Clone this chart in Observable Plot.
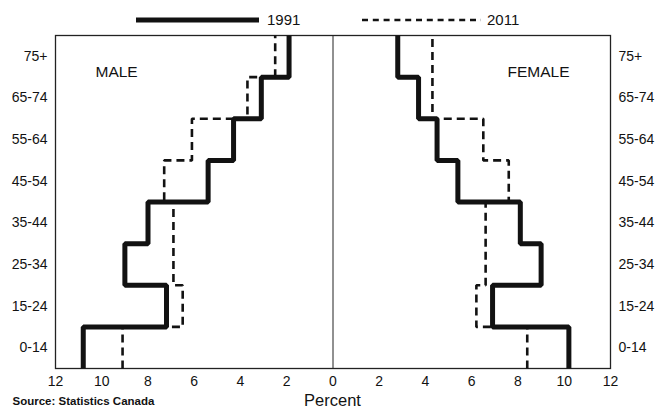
<!DOCTYPE html>
<html>
<head>
<meta charset="utf-8">
<script src="https://cdn.jsdelivr.net/npm/d3@7"></script>
<script src="https://cdn.jsdelivr.net/npm/@observablehq/plot@0.6"></script>
<style>
  html, body { margin: 0; padding: 0; background: #fff; }
  body { width: 663px; height: 412px; overflow: hidden; font-family: "Liberation Sans", Arial, sans-serif; }
  #legend { width: 663px; height: 30px; }
  #legend svg, #chart svg { display: block; }
</style>
</head>
<body>
<div id="legend"></div>
<div id="chart"></div>
<script>
// ---- Data ----
const ages = ["0-14", "15-24", "25-34", "35-44", "45-54", "55-64", "65-74", "75+"];
const male1991   = [10.8, 7.2, 9.0, 8.0, 5.4, 4.3, 3.1, 1.9];
const male2011   = [9.1, 6.5, 6.9, 6.9, 7.3, 6.1, 3.7, 2.5];
const female1991 = [10.2, 6.9, 9.0, 8.1, 5.4, 4.5, 3.7, 2.8];
const female2011 = [8.4, 6.2, 6.6, 6.6, 7.6, 6.5, 4.3, 4.3];
const years = ["1991", "2011"];
const xTicks = [-12, -10, -8, -6, -4, -2, 0, 2, 4, 6, 8, 10, 12];
const sideLabels = ["MALE", "FEMALE"];
const sourceText = "Source: Statistics Canada";
const axisTitle = "Percent";

// ---- Build step paths: each age band spans [i, i+1] on the y scale ----
function stepPath(values, sign, year, sex) {
  const pts = [];
  values.forEach((v, i) => {
    pts.push({x: sign * v, y: i, year, key: year + sex});
    pts.push({x: sign * v, y: i + 1, year, key: year + sex});
  });
  return pts;
}
const rows = [
  ...stepPath(male1991, -1, "1991", "M"),
  ...stepPath(female1991, 1, "1991", "F"),
  ...stepPath(male2011, -1, "2011", "M"),
  ...stepPath(female2011, 1, "2011", "F")
];
const rows1991 = rows.filter(d => d.year === years[0]);
const rows2011 = rows.filter(d => d.year === years[1]);

const ink = "#121212";
const font = "Liberation Sans, Arial, sans-serif";

// ---- Legend ----
(function () {
  const svg = d3.select("#legend").append("svg").attr("width", 663).attr("height", 30);
  const g1 = svg.append("g");
  g1.append("line").attr("x1", 136).attr("x2", 259).attr("y1", 20).attr("y2", 20)
    .attr("stroke", ink).attr("stroke-width", 5);
  g1.append("text").attr("x", 267).attr("y", 20).attr("dy", "0.35em")
    .attr("font-size", 15).attr("font-family", font).attr("fill", ink).text(years[0]);
  const g2 = svg.append("g");
  g2.append("line").attr("x1", 362).attr("x2", 481).attr("y1", 20).attr("y2", 20)
    .attr("stroke", ink).attr("stroke-width", 2.5).attr("stroke-dasharray", "6,4.8");
  g2.append("text").attr("x", 487).attr("y", 20).attr("dy", "0.35em")
    .attr("font-size", 15).attr("font-family", font).attr("fill", ink).text(years[1]);
})();

// ---- Chart ----
const chart = Plot.plot({
  width: 663,
  height: 382,
  marginTop: 5,
  marginBottom: 44,
  marginLeft: 55,
  marginRight: 53,
  style: {fontFamily: font, fontSize: "14px", color: ink, background: "white", overflow: "visible"},
  x: {domain: [-12, 12]},
  y: {domain: [0, 8]},
  marks: [
    Plot.frame({stroke: "#222", strokeWidth: 1.3}),
    Plot.ruleX([0], {stroke: "#222", strokeWidth: 1}),
    Plot.axisX({
      ticks: xTicks, tickSize: 0, tickPadding: 8, label: null,
      tickFormat: d => Math.abs(d), fontSize: 14, fill: ink
    }),
    Plot.axisY({
      anchor: "left", ticks: ages.map((a, i) => i + 0.5), tickSize: 0, tickPadding: 8, label: null,
      tickFormat: d => ages[Math.floor(d)], fontSize: 14, fill: ink
    }),
    Plot.axisY({
      anchor: "right", ticks: ages.map((a, i) => i + 0.5), tickSize: 0, tickPadding: 8, label: null,
      tickFormat: d => ages[Math.floor(d)], fontSize: 14, fill: ink
    }),
    Plot.line(rows2011, {
      x: "x", y: "y", z: "key", stroke: ink, strokeWidth: 2.6,
      strokeDasharray: "8,5", strokeLinejoin: "miter", strokeLinecap: "butt"
    }),
    Plot.line(rows1991, {
      x: "x", y: "y", z: "key", stroke: ink, strokeWidth: 5,
      strokeLinejoin: "miter", strokeLinecap: "butt"
    }),
    Plot.text([sideLabels[0]], {
      text: d => d, frameAnchor: "top-left", dx: 40, dy: 30,
      textAnchor: "start", fontSize: 15.5, fill: ink
    }),
    Plot.text([sideLabels[1]], {
      text: d => d, frameAnchor: "top-right", dx: -41, dy: 30,
      textAnchor: "end", fontSize: 15.5, fill: ink
    }),
    Plot.text([axisTitle], {
      text: d => d, frameAnchor: "bottom", dx: -0.5, dy: 37,
      fontSize: 16.5, fill: ink
    }),
    Plot.text([sourceText], {
      text: d => d, frameAnchor: "bottom-left", dx: -43, dy: 36,
      textAnchor: "start", fontSize: 11.5, fontWeight: "bold", fill: ink
    })
  ]
});
document.getElementById("chart").appendChild(chart);
</script>
</body>
</html>
